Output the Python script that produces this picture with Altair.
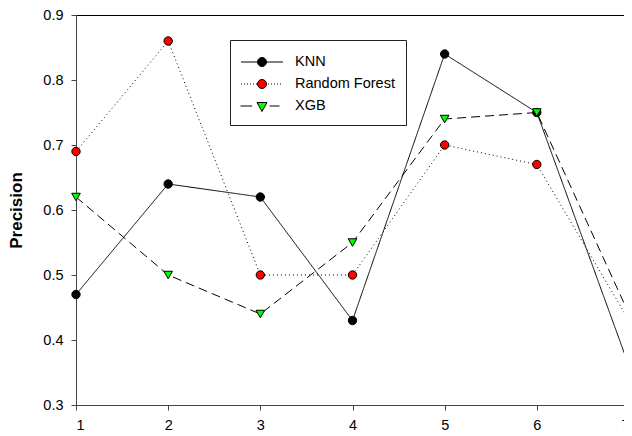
import altair as alt
import pandas as pd

x_vals = [1, 2, 3, 4, 5, 6, 7]
knn = [0.47, 0.64, 0.62, 0.43, 0.84, 0.75, 0.36]
rf = [0.69, 0.86, 0.50, 0.50, 0.70, 0.67, 0.43]
xgb = [0.62, 0.50, 0.44, 0.55, 0.74, 0.75, 0.44]
series = ["KNN", "Random Forest", "XGB"]
y_ticks = [0.3, 0.4, 0.5, 0.6, 0.7, 0.8, 0.9]

rows = []
for name, vals in zip(series, [knn, rf, xgb]):
    for xv, yv in zip(x_vals, vals):
        rows.append({"x": xv, "value": yv, "series": name})
df = pd.DataFrame(rows)

FONT = "Liberation Sans"

# per-series styles
fills = {"KNN": "#000000", "Random Forest": "#ff0000", "XGB": "#00ff00"}
dash = {"KNN": [1, 0], "Random Forest": [1, 3], "XGB": [9, 5]}
marker = {"KNN": "circle", "Random Forest": "circle", "XGB": "triangle-down"}
msize = {"KNN": 70, "Random Forest": 70, "XGB": 75}

# legend symbol paths, designed in pixels then converted to Vega's unit space
LEG_SIZE = 441
S = (LEG_SIZE ** 0.5) / 2.0


def u(v):
    return f"{v / S:.4f}"


CR = 4.5
circle = f"M{u(CR)},0A{u(CR)},{u(CR)} 0 1,1 {u(-CR)},0A{u(CR)},{u(CR)} 0 1,1 {u(CR)},0Z"
tri = f"M{u(-5)},{u(-3.5)}L{u(5)},{u(-3.5)}L0,{u(5.5)}Z"
solid = f"M{u(-21)},0L{u(-CR)},0M{u(CR)},0L{u(21)},0"
dots = ""
p = -21.0
while p < -5.5:
    dots += f"M{u(p)},0L{u(p + 1)},0"
    p += 3.0
p = 6.0
while p < 21:
    dots += f"M{u(p)},0L{u(p + 1)},0"
    p += 3.0
dashes = f"M{u(-21.5)},0L{u(-9.8)},0M{u(7.5)},0L{u(17.5)},0"
legend_shapes = [solid + circle, dots + circle, dashes + tri]

x_enc = alt.X("x:Q", scale=alt.Scale(domain=[1, 7], nice=False),
              axis=alt.Axis(values=x_vals, format="d", title=None))
y_enc = alt.Y("value:Q", scale=alt.Scale(domain=[0.3, 0.9], nice=False, zero=False),
              axis=alt.Axis(values=y_ticks, format=".1f", title="Precision"))

base = alt.Chart(df)

layers = []
for s in series:
    sub = base.transform_filter(alt.datum.series == s)
    layers.append(sub.mark_line(color="black", strokeWidth=1, strokeDash=dash[s])
                  .encode(x=x_enc, y=y_enc))
for s in series:
    sub = base.transform_filter(alt.datum.series == s)
    layers.append(sub.mark_point(shape=marker[s], filled=True, fill=fills[s], stroke="black",
                                 strokeWidth=1, size=msize[s], opacity=1)
                  .encode(x=x_enc, y=y_enc))

leg = alt.Legend(title=None, orient="none", legendX=154, legendY=25,
                 symbolSize=LEG_SIZE, symbolOpacity=1, symbolStrokeWidth=1,
                 symbolOffset=10,
                 labelFont=FONT, labelFontSize=14.5,
                 labelColor="black", labelOffset=22, rowPadding=4, padding=11,
                 strokeColor="#222222", fillColor="white")

legend_layer = base.mark_point(filled=True, strokeWidth=1, opacity=0).encode(
    x=x_enc, y=y_enc,
    fill=alt.Fill("series:N", scale=alt.Scale(domain=series, range=[fills[s] for s in series]),
                  legend=leg),
    stroke=alt.Stroke("series:N", scale=alt.Scale(domain=series, range=["#000000"] * 3),
                      legend=leg),
    shape=alt.Shape("series:N", scale=alt.Scale(domain=series, range=legend_shapes), legend=leg),
)
layers.append(legend_layer)

chart = alt.layer(*layers).properties(
    width=553, height=390,
    autosize=alt.AutoSizeParams(type="none"),
    padding={"left": 68, "top": 7, "right": -5, "bottom": 30},
    background="white",
).configure_view(
    stroke="black", strokeWidth=1
).configure_axis(
    grid=False, labelFont=FONT, labelFontSize=14.5, labelColor="black",
    tickSize=5, tickColor="#444444", domainColor="#444444", domainWidth=1,
    titleFont=FONT, titleFontSize=17, titleFontWeight="bold", titleColor="black",
    labelPadding=8,
).configure_axisY(
    titlePadding=17,
).configure_legend(
    strokeWidth=1,
)

chart.save("out.html", embed_options={"renderer": "svg", "actions": False})
